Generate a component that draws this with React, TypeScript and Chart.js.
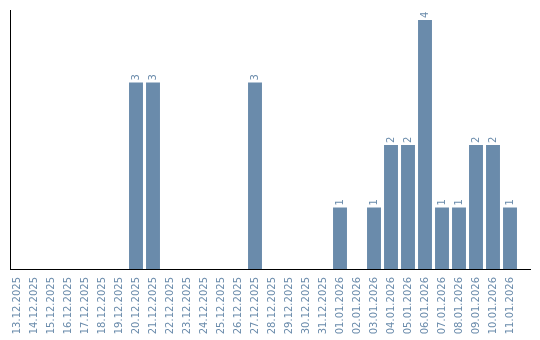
import React, { useEffect, useRef } from "react";
import { Chart, registerables } from "chart.js";
Chart.register(...registerables);

const categories = [
  "13.12.2025", "14.12.2025", "15.12.2025", "16.12.2025", "17.12.2025", "18.12.2025",
  "19.12.2025", "20.12.2025", "21.12.2025", "22.12.2025", "23.12.2025", "24.12.2025",
  "25.12.2025", "26.12.2025", "27.12.2025", "28.12.2025", "29.12.2025", "30.12.2025",
  "31.12.2025", "01.01.2026", "02.01.2026", "03.01.2026", "04.01.2026", "05.01.2026",
  "06.01.2026", "07.01.2026", "08.01.2026", "09.01.2026", "10.01.2026", "11.01.2026",
];
const values = [
  0, 0, 0, 0, 0, 0,
  0, 3, 3, 0, 0, 0,
  0, 0, 3, 0, 0, 0,
  0, 1, 0, 1, 2, 2,
  4, 1, 1, 2, 2, 1,
];

const BLUE = "#6a8bab";
const FONT = "'DejaVu Sans', sans-serif";

const valueLabels = {
  id: "valueLabels",
  afterDatasetsDraw(chart: any) {
    const ctx = chart.ctx;
    const meta = chart.getDatasetMeta(0);
    ctx.save();
    ctx.fillStyle = BLUE;
    ctx.font = `10px ${FONT}`;
    ctx.textAlign = "left";
    ctx.textBaseline = "middle";
    meta.data.forEach((bar: any, i: number) => {
      const v = values[i];
      if (!v) return;
      ctx.save();
      ctx.translate(bar.x, bar.y - 2);
      ctx.rotate(-Math.PI / 2);
      ctx.fillText(String(v), 0, 0);
      ctx.restore();
    });
    ctx.restore();
  },
};

const axisLines = {
  id: "axisLines",
  afterDraw(chart: any) {
    const ctx = chart.ctx;
    const a = chart.chartArea;
    ctx.save();
    ctx.fillStyle = "#000";
    ctx.fillRect(10, a.top, 1, a.bottom - a.top);
    ctx.fillRect(10, Math.round(a.bottom) - 1, 521, 1);
    ctx.restore();
  },
};

export default function App() {
  const ref = useRef<HTMLCanvasElement>(null);
  useEffect(() => {
    const chart = new Chart(ref.current!, {
      type: "bar",
      data: {
        labels: categories,
        datasets: [
          {
            data: values,
            backgroundColor: BLUE,
            barPercentage: 0.82,
            categoryPercentage: 1,
          },
        ],
      },
      options: {
        animation: false,
        responsive: false,
        layout: { padding: { left: 8.5, right: 21.5, top: 10, bottom: 0 } },
        plugins: { legend: { display: false }, tooltip: { enabled: false } },
        scales: {
          x: {
            grid: { display: false, drawTicks: false },
            border: { display: false },
            ticks: {
              color: BLUE,
              font: { family: FONT, size: 10 },
              minRotation: 90,
              maxRotation: 90,
              autoSkip: false,
              padding: 7,
            },
            afterFit(scale: any) {
              scale.height = 70;
            },
          },
          y: {
            min: 0,
            max: 4.16,
            grid: { display: false, drawTicks: false },
            border: { display: false },
            ticks: { display: false },
            afterFit(scale: any) {
              scale.width = 0;
            },
          },
        },
      },
      plugins: [valueLabels, axisLines],
    });
    return () => chart.destroy();
  }, []);
  return (
    <div style={{ position: "absolute", left: 0, top: 0, width: 540, height: 340 }}>
      <canvas ref={ref} width={540} height={340} />
    </div>
  );
}
